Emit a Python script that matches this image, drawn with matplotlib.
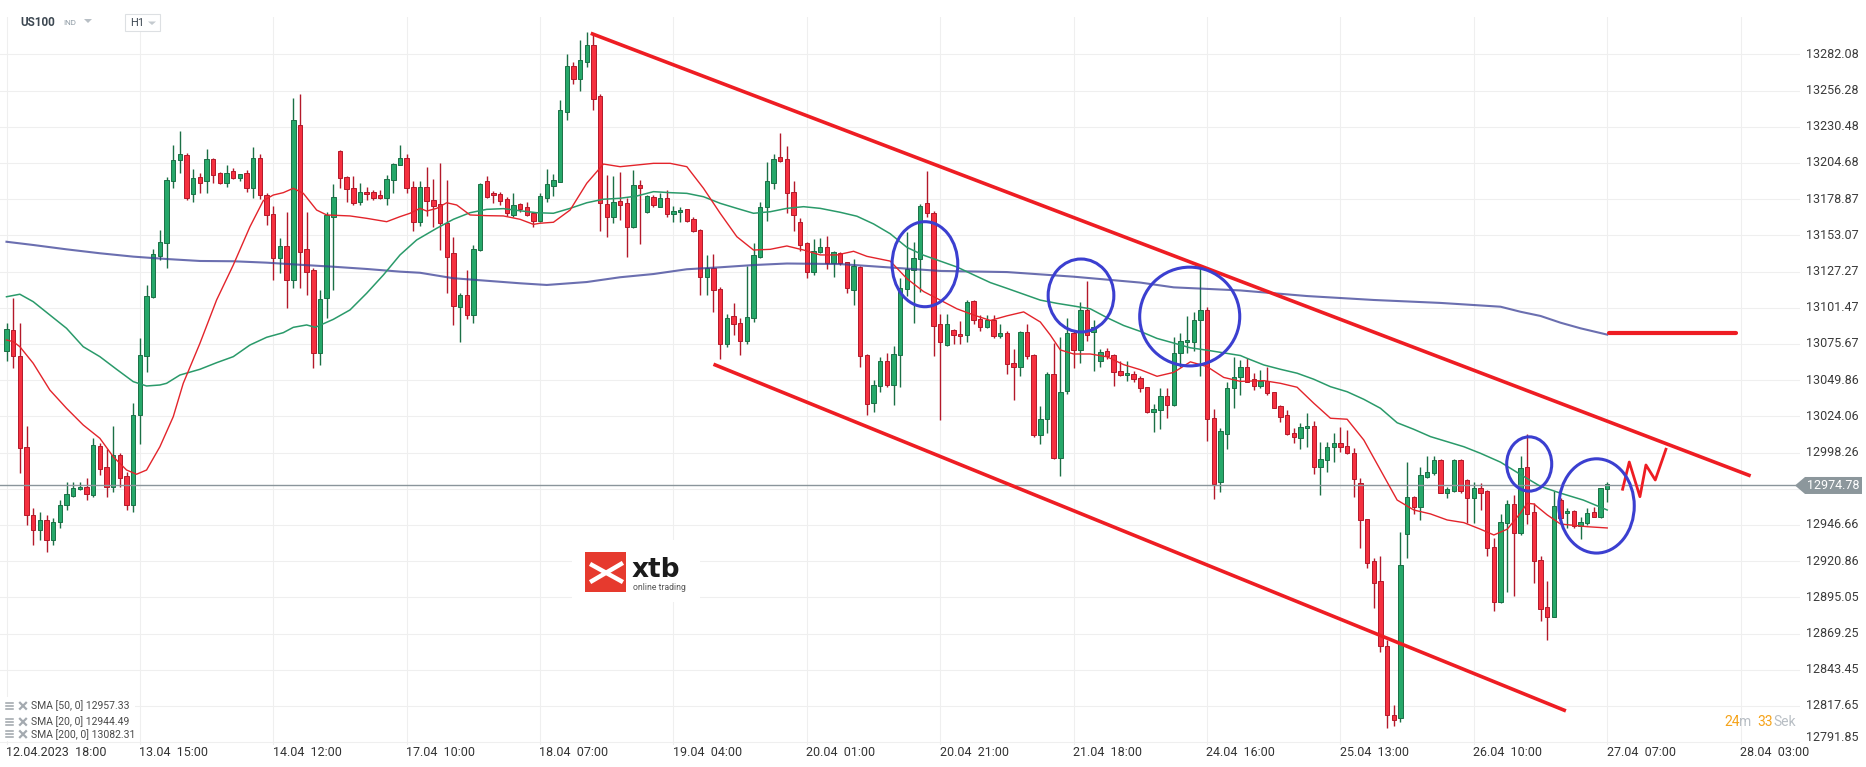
import matplotlib
matplotlib.use("Agg")
import matplotlib.pyplot as plt
import matplotlib.transforms as mtransforms
from matplotlib.patches import Ellipse, Polygon, Rectangle
from matplotlib.lines import Line2D
import numpy as np

plt.rcParams['font.family'] = ['Roboto', 'DejaVu Sans']

# US100 H1, bar 0 = 12.04 18:00 ... bar 240 = 27.04 07:00
opens = [
    13070.9, 13085.6, 13067.1, 13002.2, 12953.8, 12943.1, 12950.2, 12935.9, 12948.8, 12960.9,
    12967.3, 12972.1, 12973.5, 12968.0, 13002.9, 12987.8, 12973.5, 12996.5, 12981.6, 12960.9,
    13025.0, 13067.1, 13108.9, 13138.6, 13147.4, 13191.6, 13206.8, 13210.1, 13182.3, 13194.4,
    13191.6, 13207.3, 13197.3, 13190.2, 13198.9, 13193.7, 13197.3, 13186.6, 13208.0, 13181.8,
    13168.3, 13136.7, 13145.5, 13121.2, 13231.7, 13143.1, 13128.4, 13069.4, 13108.2, 13166.4,
    13213.2, 13194.4, 13186.6, 13176.6, 13183.7, 13183.7, 13181.8, 13179.5, 13192.5, 13203.2,
    13208.0, 13187.7, 13162.8, 13187.3, 13178.3, 13175.4, 13161.7, 13140.3, 13101.8, 13110.3,
    13096.1, 13142.6, 13191.6, 13183.5, 13182.5, 13178.8, 13167.8, 13175.4, 13173.1, 13168.8,
    13163.3, 13179.9, 13188.5, 13191.3, 13241.2, 13273.8, 13264.7, 13276.8, 13288.9, 13252.4,
    13175.4, 13165.9, 13177.3, 13175.9, 13158.8, 13189.0, 13169.9, 13180.6, 13173.5, 13179.5,
    13168.3, 13169.7, 13171.6, 13164.5, 13156.9, 13123.2, 13129.6, 13115.0, 13075.6, 13095.6,
    13090.4, 13078.0, 13093.9, 13137.9, 13173.1, 13190.6, 13209.1, 13207.3, 13183.7, 13162.6,
    13147.8, 13127.2, 13141.0, 13144.5, 13133.1, 13140.3, 13133.9, 13114.1, 13130.8, 13067.9,
    13033.9, 13045.7, 13063.2, 13046.2, 13067.9, 13114.7, 13128.6, 13136.1, 13175.9, 13169.2,
    13089.6, 13074.9, 13085.5, 13082.7, 13081.8, 13106.1, 13093.5, 13087.4, 13092.9, 13081.3,
    13083.2, 13062.3, 13059.0, 13084.0, 13067.9, 13010.8, 13022.0, 13054.0, 12994.1, 13042.3,
    13083.2, 13071.2, 13099.9, 13084.0, 13063.7, 13070.7, 13067.9, 13056.2, 13053.4, 13054.0,
    13051.2, 13044.8, 13027.5, 13028.4, 13038.6, 13032.3, 13069.3, 13076.8, 13076.8, 13092.4,
    13099.9, 13022.8, 12977.4, 13011.6, 13044.5, 13051.9, 13059.0, 13050.5, 13045.7, 13049.5,
    13041.2, 13031.4, 13025.0, 13012.0, 13008.4, 13015.6, 13017.2, 12987.8, 12993.0, 13002.0,
    13004.9, 13002.9, 12998.2, 12976.4, 12950.7, 12921.0, 12906.9, 12860.4, 12811.2, 12809.1,
    12940.0, 12966.4, 12959.7, 12980.6, 12983.5, 12993.0, 12969.7, 12971.1, 12993.0, 12978.7,
    12965.7, 12972.8, 12970.9, 12930.7, 12892.0, 12948.3, 12961.6, 12941.1, 12987.8, 12955.7,
    12921.7, 12888.0, 12881.3, 12964.4, 12955.0, 12956.8, 12945.9, 12947.8, 12955.7, 12952.1,
    12972.1,
]
highs = [
    13090.4, 13108.2, 13090.4, 13017.2, 12958.7, 12955.9, 12953.8, 12951.6, 12964.4, 12977.1,
    12977.1, 12977.1, 12979.9, 13008.4, 13005.3, 13000.6, 13017.2, 12998.2, 12984.6, 13033.8,
    13080.1, 13117.7, 13143.1, 13156.9, 13194.4, 13217.5, 13227.4, 13211.8, 13200.1, 13197.3,
    13214.6, 13208.0, 13198.4, 13203.2, 13200.9, 13197.0, 13199.6, 13216.2, 13211.0, 13183.5,
    13174.0, 13151.2, 13169.9, 13251.2, 13253.8, 13169.9, 13129.6, 13114.1, 13169.9, 13189.4,
    13213.9, 13195.4, 13195.4, 13190.2, 13187.3, 13185.4, 13185.4, 13196.1, 13204.4, 13217.5,
    13211.0, 13192.0, 13192.0, 13201.6, 13193.0, 13204.8, 13192.5, 13151.7, 13111.8, 13128.4,
    13146.2, 13190.4, 13195.4, 13184.9, 13184.2, 13180.2, 13183.0, 13176.3, 13176.8, 13169.9,
    13183.0, 13200.4, 13196.8, 13249.5, 13282.3, 13276.6, 13292.3, 13298.0, 13296.6, 13253.8,
    13196.1, 13195.4, 13198.2, 13179.5, 13199.6, 13192.5, 13181.8, 13181.8, 13183.5, 13185.4,
    13174.0, 13173.1, 13172.0, 13166.4, 13157.4, 13139.1, 13139.8, 13116.0, 13097.0, 13104.6,
    13093.9, 13131.2, 13147.8, 13177.0, 13205.6, 13211.0, 13225.8, 13216.7, 13191.8, 13165.4,
    13148.5, 13150.3, 13151.0, 13152.6, 13141.7, 13141.0, 13134.2, 13136.2, 13131.2, 13068.2,
    13049.8, 13066.5, 13069.3, 13074.2, 13123.0, 13155.6, 13148.1, 13175.1, 13198.7, 13170.4,
    13097.2, 13097.2, 13086.0, 13092.0, 13106.8, 13106.8, 13096.3, 13096.3, 13096.3, 13090.2,
    13084.6, 13072.1, 13084.6, 13090.2, 13068.2, 13031.2, 13055.4, 13076.3, 13080.4, 13094.4,
    13084.6, 13105.5, 13120.8, 13093.0, 13072.1, 13072.9, 13068.2, 13063.7, 13063.7, 13056.7,
    13052.6, 13045.2, 13033.1, 13044.3, 13044.3, 13080.4, 13083.2, 13095.7, 13098.5, 13131.9,
    13101.9, 13029.4, 13015.6, 13048.4, 13066.6, 13064.2, 13065.4, 13055.2, 13057.1, 13059.0,
    13041.6, 13032.2, 13028.6, 13015.6, 13019.1, 13026.2, 13021.0, 13006.0, 13006.0, 13012.0,
    13016.7, 13014.3, 13001.3, 12979.9, 12951.0, 12922.9, 12924.5, 12864.7, 12818.3, 12941.9,
    12991.7, 12967.3, 12987.8, 12995.8, 12995.8, 12993.7, 12973.9, 12993.7, 12993.7, 12979.4,
    12977.5, 12976.4, 12971.6, 12937.2, 12954.5, 12964.4, 12968.0, 12995.8, 13011.5, 12962.1,
    12924.5, 12906.9, 12971.1, 12965.6, 12958.5, 12957.5, 12952.1, 12958.5, 12959.2, 12973.0,
    12977.5,
]
lows = [
    13063.7, 13058.3, 12983.5, 12946.6, 12932.4, 12935.9, 12927.4, 12932.4, 12944.5, 12957.3,
    12966.4, 12971.6, 12964.4, 12966.8, 12982.3, 12966.4, 12970.4, 12973.5, 12957.3, 12955.9,
    13004.1, 13055.5, 13108.4, 13135.5, 13130.0, 13186.6, 13197.7, 13178.5, 13177.0, 13183.0,
    13183.0, 13190.2, 13189.5, 13187.7, 13193.0, 13191.8, 13183.7, 13179.5, 13179.0, 13160.4,
    13121.2, 13126.4, 13101.1, 13115.3, 13115.3, 13110.6, 13058.3, 13060.7, 13093.9, 13114.1,
    13186.6, 13177.0, 13175.0, 13174.7, 13178.3, 13178.3, 13178.8, 13174.7, 13183.0, 13203.2,
    13183.0, 13156.4, 13159.7, 13166.9, 13159.2, 13142.6, 13111.8, 13089.2, 13077.3, 13093.2,
    13090.8, 13141.9, 13179.5, 13176.3, 13174.5, 13166.9, 13166.4, 13169.9, 13166.9, 13159.2,
    13162.6, 13177.0, 13181.1, 13190.8, 13235.3, 13260.9, 13256.2, 13272.8, 13242.4, 13156.4,
    13151.7, 13161.7, 13164.0, 13137.9, 13158.1, 13146.9, 13169.2, 13173.5, 13173.1, 13166.4,
    13162.6, 13162.8, 13162.8, 13155.5, 13110.3, 13110.6, 13098.6, 13064.7, 13073.3, 13082.0,
    13067.8, 13075.6, 13091.5, 13136.7, 13163.5, 13185.9, 13205.6, 13168.8, 13156.4, 13142.1,
    13122.5, 13124.8, 13140.3, 13128.9, 13123.2, 13131.7, 13112.2, 13103.6, 13059.5, 13024.7,
    13027.5, 13041.4, 13045.0, 13032.3, 13045.1, 13109.6, 13090.7, 13112.5, 13165.9, 13067.4,
    13021.1, 13074.3, 13075.7, 13075.7, 13076.8, 13089.6, 13084.6, 13086.8, 13079.6, 13079.6,
    13054.5, 13035.9, 13052.6, 13065.1, 13009.4, 13004.4, 13012.2, 12993.5, 12981.6, 13040.1,
    13058.2, 13062.3, 13077.6, 13056.2, 13059.5, 13065.1, 13045.7, 13052.6, 13049.0, 13048.4,
    13041.4, 13026.2, 13012.8, 13015.0, 13022.8, 13031.7, 13059.5, 13069.3, 13070.6, 13052.6,
    13006.6, 12965.4, 12970.4, 13001.1, 13029.8, 13039.3, 13048.3, 13042.8, 13044.1, 13039.3,
    13029.8, 13020.3, 13010.8, 13004.9, 13000.6, 13002.4, 12983.0, 12968.0, 12984.6, 12991.7,
    12998.9, 12997.2, 12966.8, 12930.0, 12915.8, 12887.3, 12856.1, 12801.9, 12803.4, 12806.2,
    12922.9, 12954.5, 12950.2, 12979.9, 12982.3, 12969.5, 12965.7, 12970.4, 12969.1, 12948.3,
    12947.8, 12957.3, 12924.5, 12885.6, 12891.3, 12899.1, 12896.0, 12939.5, 12947.3, 12905.5,
    12878.4, 12864.7, 12880.9, 12949.0, 12944.3, 12944.3, 12936.4, 12946.6, 12952.1, 12951.9,
    12963.2,
]
closes = [
    13086.1, 13067.1, 13001.3, 12953.8, 12943.1, 12950.2, 12935.9, 12948.8, 12960.9, 12968.5,
    12972.8, 12973.5, 12968.5, 13003.6, 12986.8, 12973.5, 12996.5, 12980.3, 12960.9, 13025.0,
    13067.8, 13109.8, 13139.8, 13148.1, 13192.5, 13206.8, 13211.0, 13179.5, 13193.7, 13190.2,
    13207.3, 13196.1, 13190.2, 13197.7, 13193.7, 13196.6, 13186.6, 13208.0, 13181.8, 13167.6,
    13136.7, 13145.5, 13121.2, 13235.3, 13141.4, 13127.2, 13069.0, 13107.5, 13167.6, 13180.6,
    13193.7, 13185.9, 13175.9, 13183.7, 13182.3, 13179.9, 13179.5, 13193.0, 13203.7, 13208.0,
    13186.6, 13162.8, 13187.3, 13177.8, 13174.2, 13161.7, 13137.9, 13102.7, 13110.3, 13096.1,
    13143.1, 13189.7, 13180.2, 13181.6, 13177.8, 13168.8, 13174.5, 13172.1, 13167.8, 13163.3,
    13181.1, 13189.4, 13192.5, 13242.4, 13273.8, 13264.7, 13278.0, 13288.9, 13250.5, 13176.3,
    13165.9, 13176.8, 13174.5, 13158.8, 13189.0, 13186.6, 13181.1, 13174.5, 13179.5, 13168.3,
    13170.6, 13171.1, 13163.5, 13156.0, 13123.2, 13129.6, 13114.1, 13075.6, 13093.9, 13089.9,
    13078.0, 13094.7, 13139.1, 13173.1, 13191.6, 13207.3, 13206.3, 13183.0, 13167.4, 13146.4,
    13127.2, 13141.7, 13144.5, 13133.1, 13141.0, 13133.1, 13115.3, 13131.4, 13067.4, 13033.1,
    13046.2, 13063.2, 13046.2, 13068.5, 13115.3, 13129.2, 13136.9, 13174.3, 13169.0, 13088.8,
    13076.8, 13089.6, 13081.8, 13081.0, 13105.5, 13092.4, 13087.4, 13092.4, 13081.3, 13083.2,
    13061.5, 13059.0, 13084.0, 13067.4, 13010.8, 13022.5, 13054.0, 12994.1, 13041.4, 13083.2,
    13071.5, 13099.9, 13081.8, 13088.0, 13070.1, 13067.1, 13055.4, 13053.4, 13055.1, 13050.6,
    13044.3, 13027.5, 13029.0, 13038.6, 13032.3, 13069.3, 13077.6, 13078.2, 13092.4, 13099.9,
    13022.0, 12976.0, 13013.6, 13044.3, 13051.9, 13059.0, 13048.8, 13045.7, 13049.5, 13040.5,
    13030.2, 13023.8, 13011.3, 13009.1, 13016.3, 13017.2, 12987.8, 12993.5, 13002.4, 13004.9,
    13002.0, 12997.7, 12979.2, 12950.2, 12919.3, 12905.5, 12860.4, 12811.2, 12807.7, 12917.9,
    12966.4, 12959.7, 12982.3, 12984.2, 12993.0, 12969.7, 12972.1, 12993.0, 12971.1, 12965.7,
    12972.8, 12969.7, 12930.0, 12892.0, 12948.6, 12961.6, 12940.7, 12987.0, 12954.5, 12921.0,
    12886.6, 12881.3, 12960.2, 12951.4, 12956.8, 12945.9, 12949.0, 12955.0, 12952.1, 12972.8,
    12975.6,
]

# moving averages as shown on the chart (bar index, value)
sma20_idx = [0, 1, 2, 4, 6.5, 9, 11.5, 14, 16, 18, 19.5, 21, 23, 25, 26.5, 29, 31.5, 34, 36.5, 38.5,
             40, 41.5, 43, 44.5, 46.5, 48, 51.5, 54, 57, 59, 60.5, 62, 63, 64.5, 66, 67.5, 69.5, 72,
             74.5, 77, 79, 80, 82, 84.5, 87, 89.5, 92, 94.5, 97, 99.5, 102, 104.5, 107, 109.5, 112,
             114.5, 117, 119.5, 122, 124.5, 127, 129, 132.5, 135, 137.5, 140, 142.5, 145, 147.5, 150,
             152.5, 155, 156.5, 158, 160, 162.5, 165, 167.5, 170, 172.5, 175, 177.5, 180, 182.5, 185,
             188.5, 191, 193.5, 196, 198.5, 201, 203.5, 206, 208.5, 211, 213.5, 216, 218.5, 221, 223,
             225, 227, 228, 229, 231, 233, 237, 240]
sma20_val = [13078.5, 13077.3, 13073.7, 13061.9, 13042.8, 13029.8, 13017.9, 13008.4, 12995.3, 12985.8,
             12982.8, 12985.8, 13002.4, 13023.8, 13047.6, 13076.1, 13107.0, 13131.9, 13159.2, 13177.8,
             13181.8, 13183.5, 13186.6, 13183.0, 13171.1, 13167.6, 13166.9, 13165.2, 13162.8, 13166.4,
             13168.8, 13172.3, 13170.4, 13172.3, 13176.3, 13174.7, 13167.6, 13167.1, 13166.9, 13164.5,
             13160.9, 13161.7, 13162.4, 13171.1, 13190.2, 13203.9, 13202.0, 13203.2, 13204.4, 13204.4,
             13202.0, 13186.6, 13168.8, 13152.1, 13142.6, 13143.1, 13145.5, 13142.6, 13139.1, 13139.1,
             13141.7, 13138.1, 13134.7, 13122.2, 13113.0, 13106.9, 13100.7, 13096.3, 13092.4, 13095.7,
             13098.5, 13091.3, 13082.0, 13071.4, 13068.5, 13068.5, 13066.5, 13060.9, 13057.3, 13052.6,
             13055.4, 13062.9, 13059.5, 13051.8, 13049.0, 13049.5, 13047.6, 13044.8, 13033.4, 13022.7,
             13022.0, 13007.2, 12985.8, 12964.4, 12957.3, 12954.5, 12950.2, 12948.3, 12943.6, 12939.5,
             12943.6, 12955.2, 12962.1, 12961.6, 12953.8, 12947.3, 12945.4, 12944.5]

sma50_idx = [0, 2, 4, 6.5, 9, 11.5, 14, 16.5, 19, 21, 23, 24, 26, 29, 31.5, 34, 36.5, 39, 41.5, 43,
             45, 46.3, 49, 51.5, 54, 56.5, 59, 61.5, 64.5, 67, 69.5, 72, 74.5, 77, 79.5, 82, 84.5, 87,
             89.5, 92, 94.5, 97, 99.5, 102, 104.5, 107, 109.5, 112, 114.5, 117, 119.5, 122, 125, 127.5,
             130, 132.5, 135, 137.5, 140, 142.5, 145, 147.5, 150, 152.5, 155, 157.5, 160, 162.5, 165,
             167.5, 170, 172.5, 175, 177.5, 180, 182.5, 185, 186, 188.5, 191, 193.5, 196, 198.5, 201,
             203.5, 206, 208.5, 211, 213.5, 216, 218.5, 221, 224, 227, 230, 233, 236.4, 240]
sma50_val = [13109.3, 13111.1, 13105.8, 13096.3, 13086.8, 13073.7, 13066.6, 13057.6, 13048.8, 13045.7,
             13046.4, 13047.6, 13053.5, 13057.6, 13062.3, 13066.6, 13074.9, 13080.4, 13083.7, 13087.5,
             13089.2, 13087.5, 13093.2, 13099.9, 13111.8, 13124.8, 13139.1, 13149.8, 13158.1, 13164.5,
             13169.2, 13171.6, 13172.1, 13170.6, 13169.2, 13168.8, 13172.3, 13176.3, 13178.8, 13179.5,
             13181.1, 13184.2, 13183.5, 13183.0, 13180.6, 13175.9, 13172.3, 13168.8, 13169.9, 13172.3,
             13173.5, 13172.3, 13169.5, 13166.7, 13161.2, 13154.2, 13144.5, 13138.9, 13134.7, 13130.5,
             13124.9, 13119.4, 13115.3, 13111.1, 13106.9, 13104.6, 13102.7, 13100.7, 13094.4, 13088.8,
             13084.6, 13079.6, 13076.3, 13072.9, 13071.2, 13069.3, 13067.4, 13065.4, 13060.7, 13057.6,
             13054.8, 13050.5, 13045.2, 13041.6, 13036.2, 13029.8, 13019.5, 13014.8, 13009.6, 13006.0,
             13002.4, 12997.7, 12991.4, 12982.6, 12974.1, 12969.3, 12964.4, 12957.3]

sma200_idx = [0, 4, 9, 14, 19, 24, 29, 34, 39, 44, 49, 54, 59, 62, 67, 72, 77, 81, 87, 92, 97, 102,
              107, 112, 117, 125, 140, 150, 160, 170, 175, 185, 195, 205, 215, 224, 227, 230, 233,
              236, 240]
sma200_val = [13148.5, 13146.2, 13143.1, 13140.3, 13137.9, 13136.2, 13134.8, 13134.6, 13133.6, 13132.1,
              13130.7, 13129.1, 13127.2, 13126.4, 13122.5, 13120.7, 13118.9, 13117.7, 13119.8, 13123.2,
              13125.5, 13128.9, 13130.3, 13131.9, 13133.0, 13132.6, 13127.7, 13126.9, 13123.6, 13119.4,
              13116.0, 13113.8, 13109.8, 13107.0, 13104.9, 13102.2, 13098.6, 13095.6, 13090.8, 13086.8,
              13082.3]

legend_rows = [("SMA [50, 0]", 12957.33), ("SMA [20, 0]", 12944.49), ("SMA [200, 0]", 13082.31)]
last_price = 12974.78

x_tick_idx = [0, 20, 40, 60, 80, 100, 120, 140, 160, 180, 200, 220, 240, 260]
x_tick_labels = ["12.04.2023  18:00", "13.04  15:00", "14.04  12:00", "17.04  10:00", "18.04  07:00",
                 "19.04  04:00", "20.04  01:00", "20.04  21:00", "21.04  18:00", "24.04  16:00",
                 "25.04  13:00", "26.04  10:00", "27.04  07:00", "28.04  03:00"]
y_ticks = [13282.08, 13256.28, 13230.48, 13204.68, 13178.87, 13153.07, 13127.27, 13101.47, 13075.67,
           13049.86, 13024.06, 12998.26, 12972.46, 12946.66, 12920.86, 12895.05, 12869.25, 12843.45,
           12817.65, 12791.85]

# hand-drawn analysis (bar index, price)
channel_upper = ([87.6, 261.5], [13297.1, 12981.6])
channel_lower = ([106.0, 233.8], [13061.2, 12814.1])
level_line = ([240.3, 259.3], [13083.2, 13083.2])
zigzag = ([242.3, 243.3, 244.9, 245.8, 247.2, 248.8], [12972.1, 12991.5, 12966.8, 12989.4, 12978.7, 13000.6])
circles = [(137.7, 13132.5, 9.85, 60.6), (161.1, 13110.2, 9.85, 52.0), (177.4, 13095.2, 15.0, 70.4),
           (228.3, 12990.1, 6.75, 38.7), (238.4, 12960.2, 11.3, 67.2)]

W, H = 1866, 767
fig = plt.figure(figsize=(W / 100, H / 100), dpi=100)
ax = fig.add_axes([0, (H - 745) / H, 1800 / W, 728 / H])
ax.set_xlim(-0.975, 268.9)
ax.set_ylim(12789.8, 13308.7)
ax.set_axis_off()


def fy(Y):
    return 1 - Y / H


for v in y_ticks:
    ax.axhline(v, color='#efefef', lw=0.8, zorder=0)
for i in x_tick_idx:
    ax.axvline(i, color='#efefef', lw=0.8, zorder=0)

o, h, l, c = map(np.array, (opens, highs, lows, closes))
idx = np.arange(len(o))
up = c >= o
lo = np.minimum(o, c)
body = np.maximum(np.abs(c - o), 0.7)
for m_, fill, edge in [(up, '#26a86a', '#1b7046'), (~up, '#f5303f', '#b3192a')]:
    ax.vlines(idx[m_], l[m_], h[m_], color=edge, lw=1.0, zorder=2)
    ax.bar(idx[m_], body[m_], bottom=lo[m_], width=0.66, color=fill, edgecolor=edge,
           linewidth=0.7, zorder=2.1)

ax.axhline(last_price, color='#8a959b', lw=1.0, zorder=2.5)
ax.plot(sma200_idx, sma200_val, color='#3a3f96', lw=1.5, alpha=0.75, zorder=3)
ax.plot(sma50_idx, sma50_val, color='#2a9a6a', lw=1.1, zorder=3)
ax.plot(sma20_idx, sma20_val, color='#e3242b', lw=1.0, zorder=3)

red = '#ee1d23'
ax.plot(*channel_upper, color=red, lw=2.6, solid_capstyle='butt', zorder=4)
ax.plot(*channel_lower, color=red, lw=2.6, solid_capstyle='butt', zorder=4)
ax.plot(*level_line, color=red, lw=3.0, solid_capstyle='round', zorder=4)
ax.plot(*zigzag, color=red, lw=2.0, zorder=4)
for cx, cy, w, hh in circles:
    ax.add_patch(Ellipse((cx, cy), w, hh, fill=False, ec='#3b3fd0', lw=2.2, zorder=5))

# axis labels
tr_y = mtransforms.blended_transform_factory(fig.transFigure, ax.transData)
tr_x = mtransforms.blended_transform_factory(ax.transData, fig.transFigure)
for v in y_ticks:
    if abs(v - last_price) < 10:
        continue
    t = tr_y
    if v == y_ticks[-1]:
        t = tr_y + mtransforms.ScaledTranslation(0, 0.05, fig.dpi_scale_trans)
    ax.text(1806 / W, v, f'{v:.2f}', transform=t, ha='left', va='center', fontsize=9,
            color='#3b3b3b', clip_on=False)
for i, lab in zip(x_tick_idx, x_tick_labels):
    ax.text(i - 0.1, fy(752), lab, transform=tr_x, ha='left', va='center', fontsize=9,
            color='#333333', clip_on=False)

# last price tag
hh = 8.5 * (13308.7 - 12789.8) / 728
tag = Polygon([(1795 / W, last_price), (1805 / W, last_price + hh), (1862 / W, last_price + hh),
               (1862 / W, last_price - hh), (1805 / W, last_price - hh)], closed=True,
              transform=tr_y, fc='#8c979c', ec='none', zorder=6)
fig.add_artist(tag)
fig.text(1807 / W, last_price, f'{last_price:.2f}', transform=tr_y, ha='left', va='center',
         fontsize=9, color='white', zorder=7)

# header
fig.text(20 / W, fy(23), 'US100', fontsize=8.5, fontweight='bold', color='#3d4852', va='center')
fig.text(63 / W, fy(23), 'IND', fontsize=5.8, color='#8f9ba5', va='center')
fig.add_artist(Polygon([(84 / W, fy(19)), (92 / W, fy(19)), (88 / W, fy(23))],
                       transform=fig.transFigure, fc='#b8bfc5', ec='none'))
fig.add_artist(Rectangle((124.5 / W, fy(30.5)), 35 / W, 17 / H, transform=fig.transFigure,
                         fc='white', ec='#dde0e3', lw=0.8))
fig.text(130 / W, fy(23), 'H1', fontsize=8, color='#3d4852', va='center')
fig.add_artist(Polygon([(148 / W, fy(21.5)), (156 / W, fy(21.5)), (152 / W, fy(25))],
                       transform=fig.transFigure, fc='#c4cacf', ec='none'))

# legend
fig.add_artist(Rectangle((0, fy(741)), 135 / W, 44 / H, transform=fig.transFigure, fc='white', ec='none'))
for (name, val), Y in zip(legend_rows, [705.8, 721.8, 734.2]):
    for d in (-3, 0, 3):
        fig.add_artist(Line2D([6 / W, 13 / W], [fy(Y + d)] * 2, transform=fig.transFigure,
                              color='#9ea4aa', lw=1.1))
    fig.add_artist(Line2D([20 / W, 26 / W], [fy(Y - 3), fy(Y + 3)], transform=fig.transFigure,
                          color='#a4aab0', lw=1.6))
    fig.add_artist(Line2D([20 / W, 26 / W], [fy(Y + 3), fy(Y - 3)], transform=fig.transFigure,
                          color='#a4aab0', lw=1.6))
    fig.text(31 / W, fy(Y), f'{name} {val:.2f}', fontsize=7.5, color='#4a4a4a', va='center')

# candle timer
for X, s, col in [(1724, '24', '#f5a31a'), (1739, 'm', '#b8bec4'), (1757, '33', '#f5a31a'),
                  (1773, 'Sek', '#b8bec4')]:
    fig.text(X / W, fy(722), s, fontsize=10, color=col, va='center')

# xtb logo
fig.add_artist(Rectangle((572 / W, fy(602)), 128 / W, 62 / H, transform=fig.transFigure,
                         fc='white', ec='none'))
fig.add_artist(Rectangle((585 / W, fy(592)), 41 / W, 40 / H, transform=fig.transFigure,
                         fc='#e63a2e', ec='none'))
fig.add_artist(Line2D([592 / W, 621 / W], [fy(565), fy(581)], transform=fig.transFigure,
                      color='white', lw=3.2))
fig.add_artist(Line2D([592 / W, 621 / W], [fy(581), fy(564)], transform=fig.transFigure,
                      color='white', lw=3.2))
fig.text(632 / W, fy(577), 'xtb', fontsize=19, fontweight='bold', family='DejaVu Sans',
         color='#1b1b1b', va='baseline')
fig.text(633 / W, fy(587), 'online trading', fontsize=6.2, color='#555555', va='center')

fig.savefig('out.png', dpi=100, facecolor='white')
